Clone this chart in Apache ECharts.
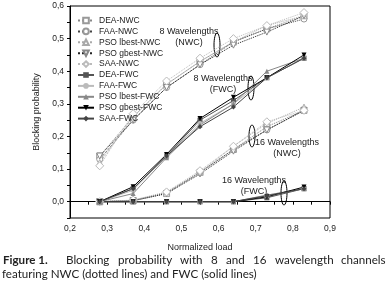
<!DOCTYPE html>
<html>
<head>
<meta charset="utf-8">
<script src="https://cdn.jsdelivr.net/npm/echarts@6/dist/echarts.min.js"></script>
<style>
html,body{margin:0;padding:0;background:#fff;}
#chart{width:390px;height:296px;}
</style>
</head>
<body>
<div id="chart"></div>
<script>
var loads = [0.28, 0.37, 0.46, 0.55, 0.64, 0.73, 0.83];

var names = ['DEA', 'FAA', 'PSO lbest', 'PSO gbest', 'SAA'];

// 8 wavelengths, NWC
var nwc8 = [
	[0.14, 0.26, 0.36, 0.43, 0.49, 0.53, 0.57],
	[0.13, 0.25, 0.35, 0.42, 0.49, 0.53, 0.56],
	[0.12, 0.26, 0.36, 0.43, 0.49, 0.54, 0.57],
	[0.14, 0.25, 0.35, 0.42, 0.48, 0.52, 0.57],
	[0.11, 0.27, 0.37, 0.44, 0.50, 0.54, 0.58]
];
// 8 wavelengths, FWC
var fwc8 = [
	[0, 0.040, 0.140, 0.250, 0.310, 0.380, 0.440],
	[0, 0.035, 0.140, 0.240, 0.300, 0.380, 0.440],
	[0, 0.025, 0.135, 0.235, 0.300, 0.400, 0.440],
	[0, 0.046, 0.145, 0.255, 0.320, 0.380, 0.450],
	[0, 0.040, 0.140, 0.230, 0.290, 0.380, 0.440]
];
// 16 wavelengths, NWC
var nwc16 = [
	[0, 0.003, 0.025, 0.090, 0.160, 0.230, 0.280],
	[0, 0.004, 0.028, 0.090, 0.160, 0.220, 0.280],
	[0, 0.003, 0.025, 0.090, 0.170, 0.240, 0.290],
	[0, 0.003, 0.025, 0.085, 0.155, 0.220, 0.280],
	[0, 0.005, 0.030, 0.095, 0.170, 0.245, 0.280]
];
// 16 wavelengths, FWC
var fwc16 = [
	[0, 0, 0, 0, 0, 0.012, 0.040],
	[0, 0, 0, 0, 0, 0.020, 0.040],
	[0, 0, 0, 0, 0, 0.020, 0.040],
	[0, 0, 0, 0, 0, 0.015, 0.045],
	[0, 0, 0, 0, 0, 0.018, 0.040]
];

// caption line 1 is justified in the figure
var captionWords = ['Blocking', 'probability', 'with', '8', 'and', '16', 'wavelength', 'channels'];

var downTri = 'path://M0,0L10,0L5,9Z';
var symbols = ['rect', 'circle', 'triangle', downTri, 'diamond'];
var nwcLine = ['#888', '#444', '#aaa', '#222', '#bbb'];
var nwcMark = ['#999', '#999', '#aaa', '#888', '#bbb'];
var fwcCol = ['#555', '#bbb', '#888', '#000', '#444'];

var FONT = 'Liberation Sans, Arial, sans-serif';
var CAP_FONT = '11.6px Lato, sans-serif';

function fmt(v) {
	var r = Math.round(v * 100);
	if (r % 10 !== 0) return '';
	return (r / 100).toFixed(1).replace('.', ',');
}

function pairs(vals) {
	var d = [];
	for (var i = 0; i < loads.length; i++) d.push([loads[i], vals[i]]);
	return d;
}

var series = [];
for (var k = 0; k < 2; k++) {
	var nwc = k == 0 ? nwc8 : nwc16;
	for (var i = 0; i < 5; i++) {
		series.push({
			name: names[i] + '-NWC',
			type: 'line',
			symbol: symbols[i],
			symbolSize: i == 4 ? 8 : 6,
			lineStyle: {color: nwcLine[i], width: 1, type: 'dotted'},
			itemStyle: {color: '#fff', borderColor: nwcMark[i], borderWidth: 1},
			data: pairs(nwc[i])
		});
	}
}
for (var k = 0; k < 2; k++) {
	var fwc = k == 0 ? fwc8 : fwc16;
	for (var i = 0; i < 5; i++) {
		series.push({
			name: names[i] + '-FWC',
			type: 'line',
			symbol: symbols[i],
			symbolSize: 5,
			lineStyle: {color: fwcCol[i], width: 1},
			itemStyle: {color: fwcCol[i], borderColor: fwcCol[i], borderWidth: 0},
			data: pairs(fwc[i])
		});
	}
}

var legendData = [];
for (var i = 0; i < 5; i++) legendData.push(names[i] + '-NWC');
for (var i = 0; i < 5; i++) legendData.push(names[i] + '-FWC');

function label(x, y, s) {
	return {
		type: 'text', x: x, y: y,
		style: {text: s, font: '9px ' + FONT, fill: '#222',
			textAlign: 'center', textVerticalAlign: 'middle', align: 'center', verticalAlign: 'middle'}
	};
}
function ell(cx, cy, rx, ry) {
	return {type: 'ellipse', shape: {cx: cx, cy: cy, rx: rx, ry: ry}, style: {fill: 'none', stroke: '#000', lineWidth: 1}};
}

var graphics = [
	label(189, 32, '8 Wavelengths'),
	label(189, 43, '(NWC)'),
	ell(217, 45, 3, 12),
	label(223, 79, '8 Wavelengths'),
	label(223, 90, '(FWC)'),
	ell(251, 88, 3, 12),
	label(287, 143, '16 Wavelengths'),
	label(287, 154, '(NWC)'),
	ell(252, 136, 3, 11),
	label(254, 181, '16 Wavelengths'),
	label(254, 192, '(FWC)'),
	ell(284, 193, 3, 12),
	{
		type: 'text', left: 3, top: 254,
		style: {text: 'Figure 1.', font: 'bold ' + CAP_FONT, fill: '#222'}
	},
	{
		type: 'text', left: 2, top: 268,
		style: {text: 'featuring NWC (dotted lines) and FWC (solid lines)', font: CAP_FONT, fill: '#222'}
	}
];

// justify the first caption line between x=66 and x=386
var ctx = document.createElement('canvas').getContext('2d');
ctx.font = CAP_FONT;
var widths = [], total = 0;
for (var i = 0; i < captionWords.length; i++) {
	widths.push(ctx.measureText(captionWords[i]).width);
	total += widths[i];
}
var gap = (386 - 66 - total) / (captionWords.length - 1);
var cx = 66;
for (var i = 0; i < captionWords.length; i++) {
	graphics.push({
		type: 'text', left: Math.round(cx), top: 254,
		style: {text: captionWords[i], font: CAP_FONT, fill: '#222'}
	});
	cx += widths[i] + gap;
}

var chart = echarts.init(document.getElementById('chart'));
chart.setOption({
	animation: false,
	backgroundColor: '#fff',
	grid: {left: 70, right: 60, top: 6, bottom: 78, show: true, borderColor: '#000', borderWidth: 1},
	legend: {
		data: legendData,
		orient: 'vertical',
		left: 72,
		top: 11,
		itemWidth: 16,
		itemHeight: 7,
		itemGap: 1.9,
		textStyle: {fontFamily: FONT, fontSize: 8.5, color: '#222'}
	},
	xAxis: {
		type: 'value',
		min: 0.2,
		max: 0.9,
		interval: 0.05,
		name: 'Normalized load',
		nameLocation: 'middle',
		nameGap: 25,
		nameTextStyle: {fontFamily: FONT, fontSize: 9, color: '#222'},
		axisLine: {lineStyle: {color: '#000'}},
		axisTick: {length: 3, lineStyle: {color: '#000'}},
		axisLabel: {formatter: fmt, fontFamily: FONT, fontSize: 8.5, color: '#222', margin: 6},
		splitLine: {show: false}
	},
	yAxis: {
		type: 'value',
		min: -0.05,
		max: 0.6,
		interval: 0.05,
		name: 'Blocking probability',
		nameLocation: 'middle',
		nameGap: 18,
		nameTextStyle: {fontFamily: FONT, fontSize: 9, color: '#222'},
		axisLine: {show: true, lineStyle: {color: '#000'}},
		axisTick: {show: true, length: 3, lineStyle: {color: '#000'}},
		axisLabel: {formatter: fmt, fontFamily: FONT, fontSize: 8.5, color: '#222', margin: 6},
		splitLine: {show: false}
	},
	graphic: graphics,
	series: series
});
</script>
</body>
</html>
